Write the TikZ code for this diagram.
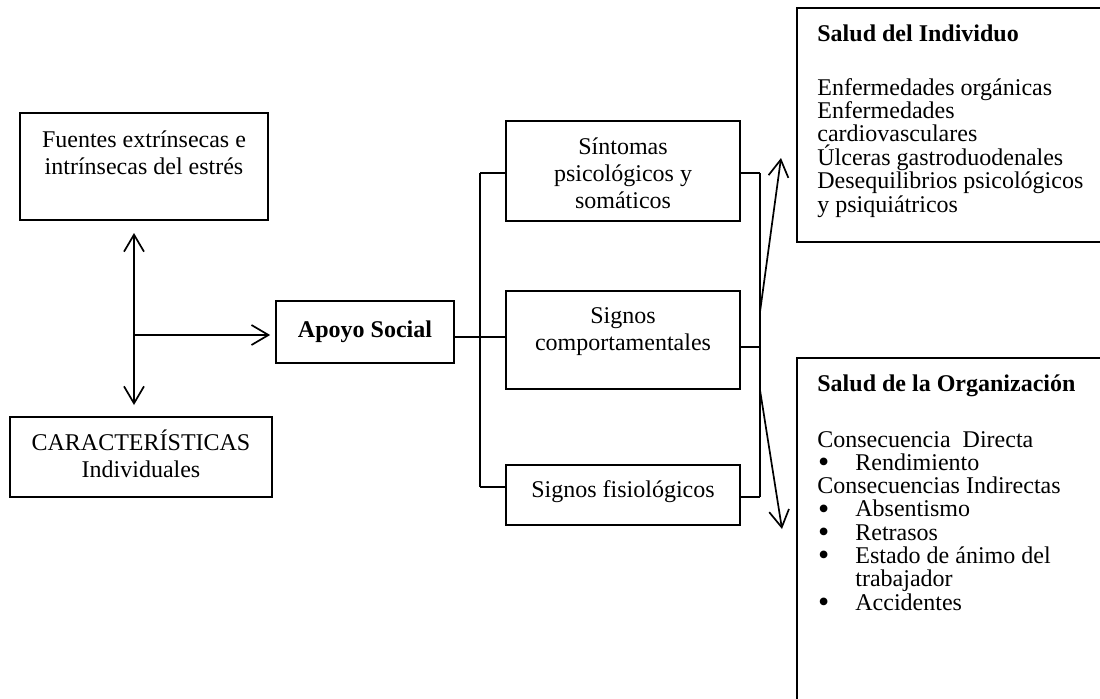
\documentclass[tikz,border=0pt]{standalone}
\usepackage{fontspec}
\setmainfont{Liberation Serif}
\usetikzlibrary{arrows.meta}

% stacked lines with a fixed baseline distance; the box baseline is the first line
\newcommand\linesC[2]{\vtop{\baselineskip=#1\lineskiplimit=-100pt\lineskip=0pt
  \halign{\hfil##\hfil\cr#2\crcr}}}
\newcommand\linesL[2]{\vtop{\baselineskip=#1\lineskiplimit=-100pt\lineskip=0pt
  \halign{##\hfil\cr#2\crcr}}}
\newcommand\bul{\hbox to 19pt{\kern0.3pt\raisebox{-1.2pt}{\fontsize{16}{16}\selectfont\textbullet}\hfil}}

\begin{document}
\begin{tikzpicture}[x=0.5pt,y=-0.5pt,
  font=\fontsize{12}{13.7}\selectfont,
  frame/.style={draw,line width=0.85pt,rectangle,inner sep=0pt},
  label/.style={inner sep=0pt,anchor=base},
  llabel/.style={inner sep=0pt,anchor=base west},
  wire/.style={line width=0.85pt},
  arr/.style={line width=0.85pt,-{Straight Barb[length=8.5pt,width=10pt]}},
  dblarr/.style={line width=0.85pt,{Straight Barb[length=8.5pt,width=10pt]}-{Straight Barb[length=8.5pt,width=10pt]}}]
\useasboundingbox (0,0) rectangle (1100,698);
\clip (0,0) rectangle (1100,698);

% left column
\node[frame,minimum width=124pt,minimum height=53.5pt] (src) at (144,166.5) {};
\node[label] (srcT) at (144,147) {\linesC{13.7pt}{Fuentes extrínsecas e\cr intrínsecas del estrés}};
\node[frame,minimum width=131pt,minimum height=40pt] (car) at (141,457) {};
\node[label] (carT) at (141,450) {\linesC{13.8pt}{CARACTERÍSTICAS\cr Individuales}};

% social support
\node[frame,minimum width=89pt,minimum height=31pt] (apoyo) at (365,332) {};
\node[label] (apoyoT) at (365,337) {\bfseries Apoyo Social};

% middle column
\node[frame,minimum width=117pt,minimum height=50pt] (sint) at (623,171) {};
\node[label] (sintT) at (623,154) {\linesC{13.7pt}{Síntomas\cr psicológicos y\cr somáticos}};
\node[frame,minimum width=117pt,minimum height=49pt] (comp) at (623,340) {};
\node[label] (compT) at (623,323) {\linesC{13.7pt}{Signos\cr comportamentales}};
\node[frame,minimum width=117pt,minimum height=30pt] (fisio) at (623,495) {};
\node[label] (fisioT) at (623,497) {Signos fisiológicos};

% right column (boxes run past the page edge)
\node[frame,minimum width=170pt,minimum height=117pt] (indiv) at (967,125) {};
\node[llabel] (indivH) at (817,41.7) {\bfseries Salud del Individuo};
\node[llabel] (indivT) at (817,95) {\linesL{11.7pt}{Enfermedades orgánicas\cr
  Enfermedades\cr cardiovasculares\cr Úlceras gastroduodenales\cr
  Desequilibrios psicológicos\cr y psiquiátricos}};
\node[frame,minimum width=170pt,minimum height=190pt] (org) at (967,548) {};
\node[llabel] (orgH) at (817,391.7) {\bfseries Salud de la Organización};
\node[llabel] (orgT) at (817,447) {\linesL{11.65pt}{Consecuencia\ \ Directa\cr
  \bul Rendimiento\cr Consecuencias Indirectas\cr \bul Absentismo\cr
  \bul Retrasos\cr \bul Estado de ánimo del\cr \hbox to 19pt{}trabajador\cr
  \bul Accidentes}};

% arrows between sources, characteristics and support
\coordinate (vtop) at (134,233);
\coordinate (vbot) at (134,405);
\coordinate (vmid) at (134,335);
\draw[dblarr] (vtop) -- (vbot);
\draw[arr,shorten >=2.5pt] (vmid) -- (vmid -| apoyo.west);

% left bus
\coordinate (lb1) at (480,173);
\coordinate (lb2) at (480,337);
\coordinate (lb3) at (480,487);
\draw[wire] (lb1) -- (lb3);
\draw[wire] (lb1) -- (lb1 -| sint.west);
\draw[wire] (lb2 -| apoyo.east) -- (lb2 -| comp.west);
\draw[wire] (lb3) -- (lb3 -| fisio.west);

% right bus
\coordinate (rb1) at (760,173);
\coordinate (rb2) at (760,347);
\coordinate (rb3) at (760,497);
\draw[wire] (rb1) -- (rb3);
\draw[wire] (rb1 -| sint.east) -- (rb1);
\draw[wire] (rb2 -| comp.east) -- (rb2);
\draw[wire] (rb3 -| fisio.east) -- (rb3);

% arrows towards individual and organisational health
\coordinate (ua) at (760,312);
\coordinate (ut) at (781,158);
\coordinate (da) at (760,390);
\coordinate (dt) at (782,529);
\draw[arr] (ua) -- (ut);
\draw[arr] (da) -- (dt);
\end{tikzpicture}
\end{document}
